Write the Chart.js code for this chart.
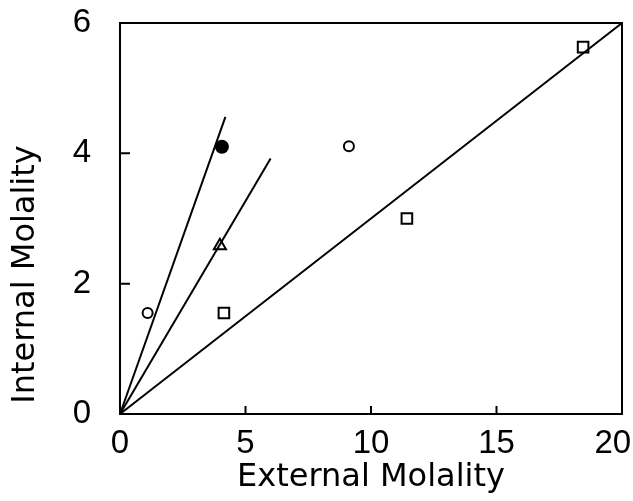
<!DOCTYPE html>
<html>
<head>
<meta charset="utf-8">
<script src="https://cdn.jsdelivr.net/npm/chart.js@4/dist/chart.umd.min.js"></script>
<style>
html,body{margin:0;padding:0;background:#fff;}
#wrap{width:633px;height:501px;position:relative;}
</style>
</head>
<body>
<div id="wrap"><canvas id="c" width="633" height="501"></canvas></div>
<script>
// Data
const openCircleX = [1.10, 9.12];
const openCircleY = [1.55, 4.11];
const filledCircleX = [4.06];
const filledCircleY = [4.10];
const triangleX = [3.98];
const triangleY = [2.58];
const squareX = [4.14, 11.43, 18.45];
const squareY = [1.55, 3.00, 5.63];
// fitted lines (start, end)
const steepLineX = [0, 4.2];
const steepLineY = [0, 4.56];
const midLineX = [0, 6.0];
const midLineY = [0, 3.92];
const longLineX = [0, 20];
const longLineY = [0, 6];
const xTicks = [0, 5, 10, 15, 20];
const yTicks = [0, 2, 4, 6];
const xInnerTicks = [5, 10, 15];
const yInnerTicks = [2, 4];
const xTitle = 'External Molality';
const yTitle = 'Internal Molality';

const pts = (xs, ys) => xs.map((x, i) => ({x: x, y: ys[i]}));
const FONT = "'DejaVu Sans'";
const TICKFONT = "'Liberation Sans', Arial, sans-serif";

const frame = {
  id: 'frame',
  afterDraw(chart) {
    const ctx = chart.ctx, a = chart.chartArea;
    const xs = chart.scales.x, ys = chart.scales.y;
    ctx.save();
    ctx.strokeStyle = '#000';
    ctx.lineWidth = 2;
    ctx.strokeRect(a.left, a.top, a.right - a.left, a.bottom - a.top);
    ctx.beginPath();
    xInnerTicks.forEach(v => {
      const p = xs.getPixelForValue(v);
      ctx.moveTo(p, a.bottom);
      ctx.lineTo(p, a.bottom - 8);
    });
    yInnerTicks.forEach(v => {
      const p = ys.getPixelForValue(v);
      ctx.moveTo(a.left, p);
      ctx.lineTo(a.left + 10, p);
    });
    ctx.stroke();
    // y-axis title, placed slightly below the axis centre as in the original
    ctx.fillStyle = '#000';
    ctx.font = '32px ' + FONT;
    ctx.textAlign = 'center';
    ctx.textBaseline = 'middle';
    ctx.translate(26, (a.top + a.bottom) / 2 + 56);
    ctx.rotate(-Math.PI / 2);
    ctx.fillText(yTitle, 0, 0);
    ctx.restore();
  }
};

const lineDs = (xs, ys) => ({
  type: 'line', data: pts(xs, ys), borderColor: '#000', borderWidth: 2,
  pointRadius: 0, fill: false, tension: 0, clip: false
});
const markDs = (xs, ys, style, fillCol, r) => ({
  type: 'scatter', data: pts(xs, ys), pointStyle: style,
  pointRadius: r, pointBorderWidth: 2, pointBorderColor: '#000',
  pointBackgroundColor: fillCol, showLine: false
});

new Chart(document.getElementById('c'), {
  type: 'scatter',
  data: {
    datasets: [
      lineDs(steepLineX, steepLineY),
      lineDs(midLineX, midLineY),
      lineDs(longLineX, longLineY),
      markDs(openCircleX, openCircleY, 'circle', '#fff', 5),
      markDs(filledCircleX, filledCircleY, 'circle', '#000', 6),
      markDs(triangleX, triangleY, 'triangle', '#fff', 7),
      markDs(squareX, squareY, 'rect', '#fff', 7.5)
    ]
  },
  options: {
    responsive: false,
    animation: false,
    layout: {padding: {top: 23, right: 11, left: 0, bottom: 0}},
    plugins: {legend: {display: false}, tooltip: {enabled: false}},
    scales: {
      x: {
        type: 'linear', min: 0, max: 20,
        afterFit(s) { s.height = 87; s.paddingLeft = 0; s.paddingRight = 0; },
        afterBuildTicks(s) { s.ticks = xTicks.map(v => ({value: v})); },
        grid: {display: false, drawTicks: false},
        border: {display: false},
        ticks: {color: '#000', font: {family: TICKFONT, size: 33}, padding: 10, maxRotation: 0,
                callback: (v) => v === xTicks[xTicks.length - 1] ? v + '\u00a0\u00a0' : String(v)},
        title: {display: true, text: xTitle, color: '#000',
                font: {family: FONT, size: 32}, padding: {top: 0, bottom: 4}}
      },
      y: {
        type: 'linear', min: 0, max: 6,
        afterFit(s) { s.width = 120; s.paddingTop = 0; s.paddingBottom = 0; },
        afterBuildTicks(s) { s.ticks = yTicks.map(v => ({value: v})); },
        grid: {display: false, drawTicks: false},
        border: {display: false},
        ticks: {color: '#000', font: {family: TICKFONT, size: 33}, padding: 29},
        title: {display: false}
      }
    }
  },
  plugins: [frame]
});
</script>
</body>
</html>
